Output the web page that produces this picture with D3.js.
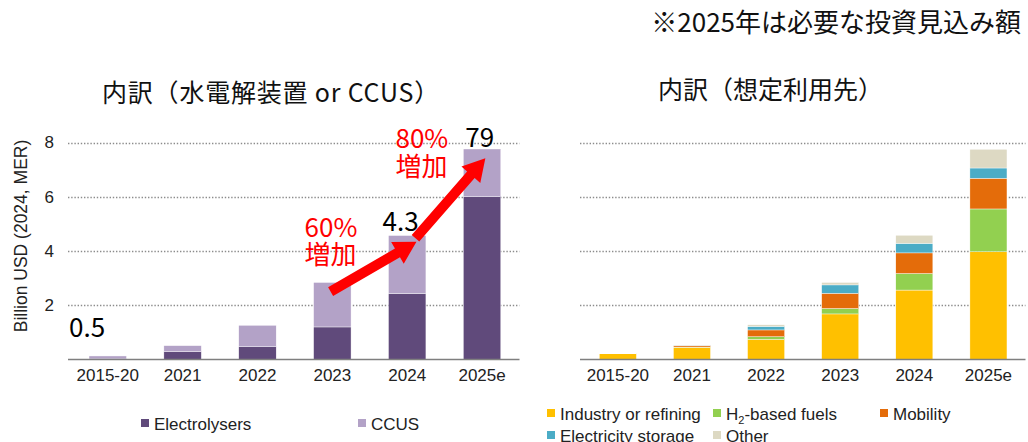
<!DOCTYPE html>
<html>
<head>
<meta charset="utf-8">
<script src="https://cdn.jsdelivr.net/npm/d3@7"></script>
<style>
  body { margin: 0; background: #fff; }
  svg { display: block; }
</style>
</head>
<body>
<div id="chart"></div>
<script>
// Data
const categories = ["2015-20", "2021", "2022", "2023", "2024", "2025e"];
const yTicks = [2, 4, 6, 8];

// left chart: by technology
const electrolysers = [0.02, 0.29, 0.47, 1.20, 2.43, 6.00];
const ccus = [0.11, 0.22, 0.79, 1.64, 2.14, 1.76];

// right chart: by end use
const industry = [0.21, 0.45, 0.74, 1.68, 2.56, 3.97];
const h2Fuels = [0.00, 0.01, 0.10, 0.20, 0.61, 1.58];
const mobility = [0.00, 0.05, 0.25, 0.56, 0.76, 1.13];
const storage = [0.00, 0.01, 0.13, 0.31, 0.35, 0.38];
const other = [0.02, 0.01, 0.06, 0.09, 0.30, 0.69];

// annotations on the left chart (category, value)
const labels = [
  { text: "0.5", cat: "2015-20", v: 0.83, dx: -20, color: "#000" },
  { text: "60%", cat: "2023", v: 4.52, dx: -9, color: "#ff0000" },
  { text: "増加", cat: "2023", v: 3.52, dx: -9, color: "#ff0000" },
  { text: "4.3", cat: "2024", v: 4.74, dx: -6, color: "#000" },
  { text: "80%", cat: "2024", v: 7.80, dx: 7, color: "#ff0000" },
  { text: "増加", cat: "2024", v: 6.77, dx: 7, color: "#ff0000" },
  { text: "79", cat: "2025e", v: 7.83, dx: 2, color: "#000" }
];
const arrows = [
  { from: ["2023", 2.50, 17], to: ["2024", 4.34, 28] },
  { from: ["2024", 4.47, 27], to: ["2025e", 7.42, 22] }
];

const width = 1028;
const height = 442;
const cjk = "'Noto Sans CJK JP', 'Noto Sans', sans-serif";
const latin = "'Liberation Sans', Arial, sans-serif";

const svg = d3.create("svg")
    .attr("width", width)
    .attr("height", height)
    .attr("viewBox", [0, 0, width, height]);

svg.append("rect").attr("width", width).attr("height", height).attr("fill", "#fff");

// shared vertical scale
const y = d3.scaleLinear().domain([0, 8]).range([359.5, 142.5]);

function drawPanel(x0, x1, gridX0, series, colors, withAxis) {
  const x = d3.scaleBand().domain(categories).range([x0, x1])
      .paddingInner(0.5).paddingOuter(0.25);
  const g = svg.append("g");

  // dotted grid lines
  g.selectAll(".grid").data(yTicks).join("line")
      .attr("x1", gridX0).attr("x2", x1)
      .attr("y1", d => Math.round(y(d)) + 0.5).attr("y2", d => Math.round(y(d)) + 0.5)
      .attr("stroke", "#8c8c8c").attr("stroke-width", 1.4)
      .attr("stroke-dasharray", "1.4,1.8");

  // stacked bars
  const rows = categories.map((c, i) => {
    const r = { cat: c };
    series.forEach((s, k) => r["s" + k] = s[i]);
    return r;
  });
  const stack = d3.stack().keys(series.map((s, k) => "s" + k))(rows);
  g.selectAll(".layer").data(stack).join("g")
      .attr("fill", (d, k) => colors[k])
    .selectAll("rect").data(d => d).join("rect")
      .attr("x", d => x(d.data.cat))
      .attr("width", x.bandwidth())
      .attr("y", d => y(d[1]))
      .attr("height", d => Math.max(0, y(d[0]) - y(d[1])))
      .attr("stroke", "#fff").attr("stroke-width", 0.4);

  // x axis
  const ax = g.append("g")
      .attr("transform", `translate(0,${y(0)})`)
      .call(d3.axisBottom(x).tickSize(0).tickPadding(9));
  ax.select(".domain").attr("d", `M${gridX0},0H${x1}`)
      .attr("stroke", "#7f7f7f").attr("stroke-width", 1.5);
  ax.selectAll("text").attr("font-family", latin).attr("font-size", 17).attr("fill", "#222");

  if (withAxis) {
    const ay = g.append("g")
        .attr("transform", `translate(${gridX0 - 14},0)`)
        .call(d3.axisLeft(y).tickValues(yTicks).tickSize(0).tickPadding(0));
    ay.select(".domain").remove();
    ay.selectAll("text").attr("font-family", latin).attr("font-size", 17).attr("fill", "#222");
  }
  return x;
}

const xL = drawPanel(70.3, 519.5, 68, [electrolysers, ccus], ["#604a7b", "#b3a2c7"], true);
drawPanel(580.8, 1025.5, 580, [industry, h2Fuels, mobility, storage, other],
    ["#ffc000", "#92d050", "#e46c0a", "#4bacc6", "#ddd9c3"], false);

// y axis title
svg.append("text")
    .attr("transform", `translate(27,236) rotate(-90)`)
    .attr("text-anchor", "middle")
    .attr("font-family", latin).attr("font-size", 17.5).attr("fill", "#222")
    .text("Billion USD (2024, MER)");

// red arrows
function arrowPath(p0, p1) {
  const dx = p1[0] - p0[0], dy = p1[1] - p0[1];
  const len = Math.hypot(dx, dy);
  const ux = dx / len, uy = dy / len, nx = -uy, ny = ux;
  const hl = 22, hw = 12.5, sw = 5;
  const bx = p1[0] - ux * hl, by = p1[1] - uy * hl;
  const pts = [
    [p0[0] + nx * sw, p0[1] + ny * sw],
    [bx + nx * sw, by + ny * sw],
    [bx + nx * hw, by + ny * hw],
    p1,
    [bx - nx * hw, by - ny * hw],
    [bx - nx * sw, by - ny * sw],
    [p0[0] - nx * sw, p0[1] - ny * sw]
  ];
  return "M" + pts.map(p => p.join(",")).join("L") + "Z";
}
svg.selectAll(".arrow").data(arrows).join("path")
    .attr("d", d => arrowPath(
      [xL(d.from[0]) + d.from[2], y(d.from[1])],
      [xL(d.to[0]) + d.to[2], y(d.to[1])]))
    .attr("fill", "#ff0000");

// value / growth labels
svg.selectAll(".ann").data(labels).join("text")
    .attr("x", d => xL(d.cat) + d.dx)
    .attr("y", d => y(d.v))
    .attr("font-family", cjk).attr("font-size", 26)
    .attr("fill", d => d.color)
    .text(d => d.text);

// titles
svg.append("text").attr("x", 102).attr("y", 102)
    .attr("font-family", cjk).attr("font-size", 25).attr("letter-spacing", 0.8).attr("fill", "#111")
    .text("内訳（水電解装置 or CCUS）");
svg.append("text").attr("x", 658).attr("y", 99)
    .attr("font-family", cjk).attr("font-size", 25).attr("fill", "#111")
    .text("内訳（想定利用先）");
svg.append("text").attr("x", 1021).attr("y", 32).attr("text-anchor", "end")
    .attr("font-family", cjk).attr("font-size", 26).attr("fill", "#111")
    .text("※2025年は必要な投資見込み額");

// legends
const legendLeft = [
  { name: "Electrolysers", color: "#604a7b", x: 141, y: 430 },
  { name: "CCUS", color: "#b3a2c7", x: 358, y: 430 }
];
const legendRight = [
  { name: "Industry or refining", color: "#ffc000", x: 547, y: 420 },
  { name: "H2-based fuels", color: "#92d050", x: 713, y: 420 },
  { name: "Mobility", color: "#e46c0a", x: 880, y: 420 },
  { name: "Electricity storage", color: "#4bacc6", x: 547, y: 442 },
  { name: "Other", color: "#ddd9c3", x: 713, y: 442 }
];
const lg = svg.selectAll(".lg").data(legendLeft.concat(legendRight)).join("g")
    .attr("transform", d => `translate(${d.x},${d.y})`);
lg.append("rect").attr("x", 0).attr("y", -11).attr("width", 8).attr("height", 8)
    .attr("fill", d => d.color);
const lt = lg.append("text").attr("x", 13)
    .attr("font-family", latin).attr("font-size", 17).attr("fill", "#222");
lt.each(function(d) {
  const t = d3.select(this);
  if (d.name.startsWith("H2")) {
    t.append("tspan").text("H");
    t.append("tspan").attr("font-size", 11).attr("dy", 4).text("2");
    t.append("tspan").attr("dy", -4).text(d.name.slice(2));
  } else {
    t.text(d.name);
  }
});

document.getElementById("chart").appendChild(svg.node());
</script>
</body>
</html>
